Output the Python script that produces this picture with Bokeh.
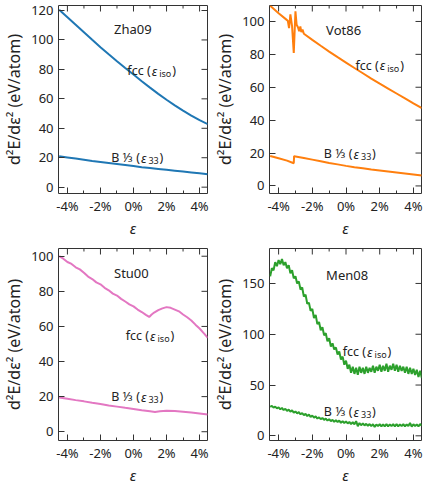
import numpy as np
from bokeh.plotting import figure
from bokeh.layouts import gridplot
from bokeh.models import Range1d, FixedTicker
from bokeh.core.properties import value
from bokeh.embed import file_html
from bokeh.resources import INLINE

FONT = "Noto Sans"
INK = "#222222"
FRAME = "#333333"

X_TICKS = [-4, -2, 0, 2, 4]
X_MINOR = [-3, -1, 1, 3]
X_TICK_LABELS = ["-4%", "-2%", "0%", "2%", "4%"]
X_LABEL = "ε"
Y_LABEL = "d²E/dε² (eV/atom)"

ZHA_X = [-4.5, -4.0, -3.5, -3.0, -2.5, -2.0, -1.5, -1.0, -0.5, 0.0,
         0.5, 1.0, 1.5, 2.0, 2.5, 3.0, 3.5, 4.0, 4.5]
ZHA_FCC = [120.5, 115.4, 110.3, 105.2, 100.1, 95.1, 90.3, 85.6, 81.0, 76.5,
           72.0, 67.6, 63.4, 59.4, 55.6, 52.0, 48.6, 45.5, 42.8]
ZHA_B = [21.0, 20.2, 19.4, 18.6, 17.8, 17.1, 16.4, 15.7, 15.0, 14.3,
         13.6, 13.0, 12.4, 11.8, 11.2, 10.6, 10.0, 9.4, 8.8]
ZHA_YTICKS = [0, 20, 40, 60, 80, 100, 120]

VOT_FCC_X = [-4.5, -4.0, -3.5, -3.45, -3.38, -3.3, -3.2, -3.1, -3.0, -2.93,
             -2.85, -2.78, -2.71, -2.65, -2.58, -2.5, -2.0, -1.5, -1.0, -0.5,
             0.0, 0.5, 1.0, 1.5, 2.0, 2.5, 3.0, 3.5, 4.0, 4.5]
VOT_FCC = [109.5, 105.0, 100.8, 100.3, 96.0, 104.3, 97.0, 80.9, 106.2, 98.0,
           96.5, 94.0, 97.0, 93.5, 95.0, 92.5, 88.8, 85.2, 81.7, 78.3,
           75.0, 71.7, 68.5, 65.3, 62.2, 59.2, 56.2, 53.2, 50.2, 47.3]
VOT_B_X = [-4.5, -4.0, -3.5, -3.1, -3.08, -2.5, -2.0, -1.5, -1.0, -0.5,
           0.0, 0.5, 1.0, 1.5, 2.0, 2.5, 3.0, 3.5, 4.0, 4.5]
VOT_B = [18.2, 16.8, 15.4, 13.8, 18.1, 17.0, 16.0, 15.0, 14.0, 13.1,
         12.2, 11.4, 10.7, 10.0, 9.4, 8.8, 8.2, 7.6, 7.0, 6.4]
VOT_YTICKS = [0, 20, 40, 60, 80, 100]

STU_FCC_X = [-4.5, -4.25, -4.0, -3.75, -3.5, -3.25, -3.0, -2.75, -2.5, -2.25,
             -2.0, -1.75, -1.5, -1.25, -1.0, -0.75, -0.5, -0.25, 0.0, 0.25,
             0.5, 0.75, 0.95, 1.1, 1.25, 1.5, 1.75, 2.0, 2.25, 2.5,
             2.75, 3.0, 3.25, 3.5, 3.75, 4.0, 4.25, 4.5]
STU_FCC = [100.0, 98.6, 96.7, 95.6, 93.7, 92.5, 90.6, 88.4, 87.0, 85.1,
           84.0, 82.0, 80.6, 78.7, 77.6, 75.7, 74.2, 72.6, 71.4, 69.6,
           68.2, 66.6, 65.4, 66.8, 67.9, 69.3, 70.3, 71.0, 70.6, 69.6,
           68.6, 66.8, 65.2, 63.4, 61.0, 58.8, 56.2, 53.5]
STU_B_X = [-4.5, -4.0, -3.5, -3.0, -2.5, -2.0, -1.5, -1.0, -0.5, 0.0,
           0.5, 1.0, 1.3, 1.6, 2.0, 2.5, 3.0, 3.5, 4.0, 4.5]
STU_B = [19.5, 18.8, 18.0, 17.3, 16.5, 15.8, 15.0, 14.3, 13.6, 13.0,
         12.3, 11.7, 11.3, 11.7, 11.9, 11.8, 11.4, 10.9, 10.4, 9.8]
STU_YTICKS = [0, 20, 40, 60, 80, 100]

MEN_X = [round(-4.5 + 0.1 * i, 1) for i in range(91)]
MEN_FCC = [157, 165, 163, 171, 167, 173, 169, 174, 168, 171,
           165, 168, 160, 163, 155, 157, 150, 152, 144, 146,
           137, 139, 130, 131, 123, 125, 116, 119, 110, 112,
           104, 107, 99, 101, 93, 96, 88, 91, 85, 87,
           80, 83, 75, 78, 70, 74, 66, 70, 62, 68,
           61, 67, 60, 68, 62, 67, 61, 68, 62, 67,
           63, 69, 62, 68, 64, 70, 63, 69, 64, 71,
           63, 69, 65, 71, 64, 70, 63, 69, 64, 68,
           62, 68, 61, 67, 61, 66, 60, 65, 58, 64,
           57]
MEN_B = [28.5, 29.5, 27.8, 28.8, 27.0, 28.0, 26.2, 27.4, 25.4, 26.6,
         24.6, 25.8, 23.8, 25.0, 22.8, 24.0, 22.0, 23.4, 21.2, 22.4,
         20.4, 21.6, 19.4, 21.0, 18.6, 20.0, 17.8, 19.2, 17.0, 18.2,
         16.4, 17.6, 15.6, 17.0, 15.0, 16.4, 14.4, 15.8, 13.8, 15.4,
         13.6, 15.0, 12.8, 14.4, 12.6, 14.2, 12.2, 13.6, 11.6, 13.4,
         11.4, 14.5, 9.5, 12.6, 10.4, 12.2, 10.2, 11.8, 9.8, 11.6,
         9.6, 11.4, 8.8, 11.2, 9.6, 11.4, 9.4, 11.2, 9.4, 11.6,
         9.2, 11.2, 9.6, 11.4, 9.4, 11.6, 9.2, 11.2, 9.6, 11.4,
         9.4, 11.2, 9.6, 12.6, 9.0, 11.4, 9.6, 11.2, 9.4, 11.6,
         9.8]
MEN_YTICKS = [0, 50, 100, 150]

COLORS = ["#1f77b4", "#ff7f0e", "#e377c2", "#2ca02c"]
NAMES = ["Zha09", "Vot86", "Stu00", "Men08"]

X_LO, X_HI = -4.54, 4.48


def make_panel(name, color, y_rng, y_ticks, fcc_x, fcc_y, b_x, b_y,
               title_xy, fcc_xy, b_xy, width, height, bl, br, bt, bb):
    p = figure(width=width, height=height,
               x_range=Range1d(X_LO, X_HI), y_range=Range1d(*y_rng),
               output_backend="svg", toolbar_location=None,
               min_border_left=bl, min_border_right=br,
               min_border_top=bt, min_border_bottom=bb)
    p.outline_line_color = FRAME
    p.outline_line_width = 1
    p.grid.visible = False
    p.background_fill_color = "white"
    p.border_fill_color = "white"

    xa = p.xaxis[0]
    ya = p.yaxis[0]
    xa.ticker = FixedTicker(ticks=X_TICKS, minor_ticks=X_MINOR)
    xa.major_label_overrides = dict(zip(X_TICKS, X_TICK_LABELS))
    ya.ticker = FixedTicker(ticks=y_ticks)
    for ax in (xa, ya):
        ax.axis_line_color = None
        ax.major_tick_in = 6
        ax.major_tick_out = 0
        ax.minor_tick_in = 3
        ax.minor_tick_out = 0
        ax.major_tick_line_color = FRAME
        ax.minor_tick_line_color = FRAME
        ax.major_label_text_font = FONT
        ax.major_label_text_font_size = "13px"
        ax.major_label_text_color = INK
        ax.axis_label_text_font = FONT
        ax.axis_label_text_color = INK
    xa.major_label_standoff = 3
    ya.major_label_standoff = 5
    xa.axis_label = X_LABEL
    xa.axis_label_text_font_style = "italic"
    xa.axis_label_text_font_size = "15px"
    xa.axis_label_standoff = 0
    ya.axis_label = Y_LABEL
    ya.axis_label_text_font_style = "normal"
    ya.axis_label_text_font_size = "16px"
    ya.axis_label_standoff = 3

    # mirrored inward ticks on the top and right edges (clipped to the frame)
    y_hi = y_rng[1]
    p.scatter(x=X_TICKS, y=[y_hi] * len(X_TICKS), marker="dash", angle=np.pi / 2,
              size=12, line_color=FRAME, line_width=1)
    p.scatter(x=X_MINOR, y=[y_hi] * len(X_MINOR), marker="dash", angle=np.pi / 2,
              size=6, line_color=FRAME, line_width=1)
    p.scatter(x=[X_HI] * len(y_ticks), y=y_ticks, marker="dash",
              size=12, line_color=FRAME, line_width=1)

    p.line(fcc_x, fcc_y, line_color=color, line_width=2)
    p.line(b_x, b_y, line_color=color, line_width=2)

    common = dict(text_font=value(FONT), text_color=INK, text_baseline="alphabetic")
    p.text(x=[title_xy[0]], y=[title_xy[1]], text=[name], text_align="left",
           text_font_size="13px", **common)
    # labels with subscripts: anchor is the left edge of epsilon
    for (ax_, ay_), head, sub, sub_w in ((fcc_xy, "fcc (", "iso", 12.0),
                                         (b_xy, "B ⅓ (", "33", 10.0)):
        p.text(x=[ax_], y=[ay_], text=[head], text_align="right", x_offset=-1,
               text_font_size="12.5px", **common)
        p.text(x=[ax_], y=[ay_], text=["ε"], text_align="left",
               text_font_size="13px", text_font_style="italic", **common)
        p.text(x=[ax_], y=[ay_], text=[sub], text_align="left", x_offset=7.5,
               y_offset=3, text_font_size="9px", **common)
        p.text(x=[ax_], y=[ay_], text=[")"], text_align="left",
               x_offset=7.5 + sub_w + 1, text_font_size="12.5px", **common)
    return p


p1 = make_panel(NAMES[0], COLORS[0], (-4.3, 123.4), ZHA_YTICKS, ZHA_X, ZHA_FCC, ZHA_X, ZHA_B,
                (-1.18, 107.4), (1.1, 79.0), (0.45, 20.0), 211, 240, 52, 4, 5, 44)
p2 = make_panel(NAMES[1], COLORS[1], (-4.6, 109.7), VOT_YTICKS, VOT_FCC_X, VOT_FCC, VOT_B_X, VOT_B,
                (-1.18, 95.0), (2.0, 73.4), (0.45, 19.6), 213, 240, 57, 3, 5, 44)
p3 = make_panel(NAMES[2], COLORS[2], (-5.0, 104.4), STU_YTICKS, STU_FCC_X, STU_FCC, STU_B_X, STU_B,
                (-1.18, 90.5), (1.0, 54.8), (0.45, 19.8), 211, 247, 52, 4, 8, 44)
p4 = make_panel(NAMES[3], COLORS[3], (-4.6, 184.4), MEN_YTICKS, MEN_X, MEN_FCC, MEN_X, MEN_B,
                (-1.18, 158.0), (1.25, 83.0), (0.45, 23.5), 213, 247, 57, 3, 8, 44)

grid = gridplot([[p1, p2], [p3, p4]], toolbar_location=None)

open("out.html", "w").write(file_html(grid, INLINE))
